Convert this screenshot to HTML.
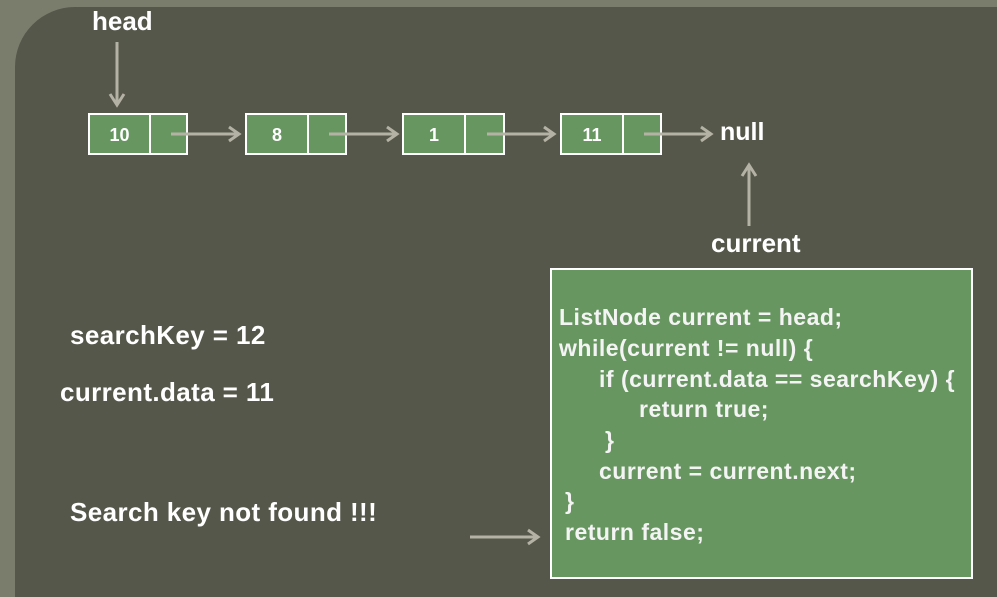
<!DOCTYPE html>
<html><head><style>
body{margin:0;width:997px;height:584px;background:#7b7d6c;overflow:hidden;position:relative;font-family:"Liberation Sans",sans-serif;}
.inner{position:absolute;left:15px;top:7px;width:990px;height:590px;background:#55574a;border-top-left-radius:60px;}
.t{position:absolute;color:#fff;font-weight:bold;white-space:pre;}
.node{position:absolute;top:113px;height:38px;border:2px solid #fff;background:#679661;}
.node .d{position:absolute;left:0;top:0;height:38px;border-right:2px solid #fff;color:#fff;font-weight:bold;font-size:18px;text-align:center;line-height:40px;}
.code{position:absolute;left:550px;top:268px;width:419px;height:307px;border:2px solid #fff;background:#679661;}
.code div{position:absolute;color:#f4f4f4;font-weight:bold;font-size:23px;letter-spacing:0.5px;white-space:pre;}
</style></head><body>
<div class="inner"></div>
<div class="node" style="left:88px;width:96px"><div class="d" style="width:59px">10</div></div>
<div class="node" style="left:245px;width:98px"><div class="d" style="width:60px">8</div></div>
<div class="node" style="left:402px;width:99px"><div class="d" style="width:60px">1</div></div>
<div class="node" style="left:560px;width:98px"><div class="d" style="width:60px">11</div></div>
<svg width="997" height="584" style="position:absolute;left:0;top:0">
<g stroke="#b4b2a4" stroke-width="3" fill="none">
<line x1="117" y1="42" x2="117" y2="104"/><polyline points="110,94 117,105 124,94"/>
<line x1="171" y1="134" x2="238" y2="134"/><polyline points="229,127 239,134 229,141"/>
<line x1="329" y1="134" x2="396" y2="134"/><polyline points="387,127 397,134 387,141"/>
<line x1="487" y1="134" x2="553" y2="134"/><polyline points="544,127 554,134 544,141"/>
<line x1="644" y1="134" x2="710" y2="134"/><polyline points="701,127 711,134 701,141"/>
<line x1="749" y1="226" x2="749" y2="166"/><polyline points="742,176 749,165 756,176"/>
<line x1="470" y1="537" x2="537" y2="537"/><polyline points="528,530 538,537 528,544"/>
</g></svg>
<div class="t" style="left:92px;top:6px;font-size:26px">head</div>
<div class="t" style="left:720px;top:118px;font-size:25px">null</div>
<div class="t" style="left:711px;top:228px;font-size:26px">current</div>
<div class="t" style="left:70px;top:320px;font-size:26px;letter-spacing:0.4px">searchKey = 12</div>
<div class="t" style="left:60px;top:377px;font-size:26px;letter-spacing:0.4px">current.data = 11</div>
<div class="t" style="left:70px;top:497px;font-size:26px;letter-spacing:0.4px">Search key not found !!!</div>
<div class="code">
<div style="left:7px;top:34px">ListNode current = head;</div>
<div style="left:7px;top:65px">while(current != null) {</div>
<div style="left:47px;top:96px">if (current.data == searchKey) {</div>
<div style="left:87px;top:126px">return true;</div>
<div style="left:53px;top:157px">}</div>
<div style="left:47px;top:188px">current = current.next;</div>
<div style="left:13px;top:218px">}</div>
<div style="left:13px;top:249px">return false;</div>
</div>
</body></html>
